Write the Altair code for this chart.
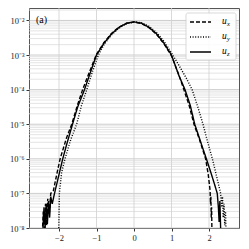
import altair as alt
import pandas as pd

# ---- data ----
ux_x = [-2.45, -2.42, -2.39, -2.36, -2.33, -2.30, -2.26, -2.22, -2.15, -2.05, -1.97, -1.80, -1.66, -1.50, -1.37,
        -1.20, -1.00, -0.80, -0.60, -0.40, -0.20, 0.00, 0.20, 0.40, 0.60, 0.80, 1.00, 1.20, 1.33, 1.47, 1.60,
        1.75, 1.91, 1.98, 2.03, 2.04, 2.05, 2.06, 2.07, 2.08]
ux_p = [5e-9, 3e-8, 8e-9, 5e-8, 1.2e-8, 7e-8, 2.5e-8, 1e-7, 1.2e-7, 4e-7, 1e-6, 4e-6, 1e-5, 3.8e-5, 1e-4,
        3e-4, 1.05e-3, 2.3e-3, 4.2e-3, 6.4e-3, 8.3e-3, 9.0e-3, 8.2e-3, 6.2e-3, 4.0e-3, 2.1e-3, 9.5e-4, 2.6e-4, 1e-4, 3.5e-5, 1e-5,
        3.5e-6, 1e-6, 3.5e-7, 1.2e-7, 5e-8, 8e-8, 2e-8, 4e-8, 5e-9]

uy_x = [-2.01, -1.99, -1.93, -1.84, -1.69, -1.53, -1.40, -1.26, -1.10, -0.95, -0.80, -0.60, -0.40, -0.20, 0.00,
        0.20, 0.40, 0.60, 0.80, 1.00, 1.20, 1.40, 1.55, 1.70, 1.84, 1.96, 2.09, 2.20, 2.31, 2.34, 2.36, 2.38,
        2.40, 2.42, 2.44, 2.46]
uy_p = [5e-9, 1e-7, 4e-7, 1e-6, 3.5e-6, 1e-5, 3.5e-5, 1e-4, 3.5e-4, 1e-3, 2.0e-3, 3.8e-3, 6.0e-3, 8.0e-3, 9.0e-3,
        8.6e-3, 6.8e-3, 4.5e-3, 2.5e-3, 1.15e-3, 5e-4, 2.1e-4, 1e-4, 3.2e-5, 1e-5, 3.2e-6, 1e-6, 3.2e-7, 1e-7, 4e-8, 8e-8, 2e-8,
        5e-8, 1.2e-8, 3e-8, 5e-9]

uz_x = [-2.44, -2.40, -2.37, -2.34, -2.31, -2.28, -2.25, -2.22, -2.18, -2.12, -2.00, -1.90, -1.80, -1.64, -1.50,
        -1.32, -1.20, -1.00, -0.80, -0.60, -0.40, -0.20, 0.00, 0.20, 0.40, 0.60, 0.80, 1.00, 1.20, 1.36, 1.50,
        1.62, 1.80, 1.93, 2.05, 2.15, 2.22, 2.25, 2.27, 2.29, 2.31, 2.33]
uz_p = [5e-9, 4e-8, 1e-8, 5e-8, 1.3e-8, 6e-8, 2e-8, 8e-8, 5e-8, 1e-7, 3.5e-7, 1e-6, 2.5e-6, 1e-5, 3.2e-5,
        1e-4, 2.4e-4, 1e-3, 2.2e-3, 4.1e-3, 6.3e-3, 8.3e-3, 9.1e-3, 8.3e-3, 6.3e-3, 4.1e-3, 2.2e-3, 1.0e-3, 2.5e-4, 1e-4, 3.5e-5,
        1e-5, 2.6e-6, 1e-6, 4e-7, 1.8e-7, 1e-7, 4e-8, 1.5e-8, 6e-8, 1e-8, 5e-9]

series_names = ["ux", "uy", "uz"]
x_ticks = [-2, -1, 0, 1, 2]
y_decades = [1e-8, 1e-7, 1e-6, 1e-5, 1e-4, 1e-3, 1e-2]
minor_mult = [2, 3, 4, 5, 6, 7, 8, 9]

rows = []
for name, xs, ps in [("ux", ux_x, ux_p), ("uy", uy_x, uy_p), ("uz", uz_x, uz_p)]:
    for i, (a, b) in enumerate(zip(xs, ps)):
        rows.append({"series": name, "x": a, "p": b, "i": i})
df = pd.DataFrame(rows)

minor_df = pd.DataFrame({"p": [m * d for d in y_decades for m in minor_mult if m * d < 0.0229]})
major_df = pd.DataFrame({"p": y_decades})
vgrid_df = pd.DataFrame({"x": x_ticks})

SERIF = "Liberation Serif"
xscale = alt.Scale(domain=[-2.8, 2.8], nice=False, zero=False)
yscale = alt.Scale(type="log", domain=[1e-8, 0.0229], nice=False)

sup = "['⁰','¹','²','³','⁴','⁵','⁶','⁷','⁸','⁹']"
x_axis = alt.Axis(values=x_ticks, format="d", grid=False, domain=False, tickSize=3,
                  tickColor="#333", labelFont=SERIF, labelFontSize=8.5, labelPadding=2,
                  labelColor="#222", title=None)
y_axis = alt.Axis(values=y_decades, grid=False, domain=False, tickSize=3, tickColor="#333",
                  labelExpr="'10⁻' + " + sup + "[round(-log(datum.value)/LN10)]",
                  labelFont=SERIF, labelFontSize=8.5, labelPadding=2, labelColor="#222", title=None)

minor = alt.Chart(minor_df).mark_rule(color="#dddddd", strokeWidth=0.8).encode(
    y=alt.Y("p:Q", scale=yscale, axis=y_axis))
major = alt.Chart(major_df).mark_rule(color="#c0c0c0", strokeWidth=0.8).encode(
    y=alt.Y("p:Q", scale=yscale, axis=y_axis))
vgrid = alt.Chart(vgrid_df).mark_rule(color="#cfcfcf", strokeWidth=0.8).encode(
    x=alt.X("x:Q", scale=xscale, axis=x_axis))

lines = alt.Chart(df).mark_line(color="black", strokeWidth=1.4, clip=True).encode(
    x=alt.X("x:Q", scale=xscale, axis=x_axis),
    y=alt.Y("p:Q", scale=yscale, axis=y_axis),
    strokeDash=alt.StrokeDash("series:N", scale=alt.Scale(domain=series_names,
                              range=[[4, 2], [1, 1.6], [1, 0]]), legend=None),
    order="i:Q",
)

one = pd.DataFrame({"a": [0]})
box = alt.Chart(one).mark_rect(fill="white", opacity=0.9, stroke="#cccccc", strokeWidth=0.8,
                               cornerRadius=2).encode(
    x=alt.value(157), x2=alt.value(207), y=alt.value(5), y2=alt.value(52))
leg_dash = [[4, 2], [1, 1.6], [1, 0]]
leg_y = [14, 29, 44]
leg_sub = ["x", "y", "z"]
leg_layers = []
for dash, yy, sub in zip(leg_dash, leg_y, leg_sub):
    leg_layers.append(alt.Chart(one).mark_rule(color="black", strokeWidth=1.4, strokeDash=dash).encode(
        x=alt.value(161), x2=alt.value(182), y=alt.value(yy)))
    leg_layers.append(alt.Chart(one).mark_text(text="u", font=SERIF, fontStyle="italic", fontSize=9.5,
                                               align="left", baseline="middle", color="black").encode(
        x=alt.value(193), y=alt.value(yy - 1)))
    leg_layers.append(alt.Chart(one).mark_text(text=sub, font=SERIF, fontStyle="italic", fontSize=6.5,
                                               align="left", baseline="middle", color="black").encode(
        x=alt.value(198), y=alt.value(yy + 2)))

label_a = alt.Chart(one).mark_text(text="(a)", font=SERIF, fontSize=10, align="left",
                                   baseline="middle", color="black").encode(
    x=alt.value(7), y=alt.value(12))

chart = alt.layer(minor, major, vgrid, lines, box, *leg_layers, label_a).properties(
    width=210, height=220,
    autosize=alt.AutoSizeParams(type="none"),
    padding={"left": 21, "top": 0, "right": 2, "bottom": 13},
).configure_view(stroke="#555555", strokeWidth=1)

chart.save("out.html", embed_options={"renderer": "svg", "actions": False})
